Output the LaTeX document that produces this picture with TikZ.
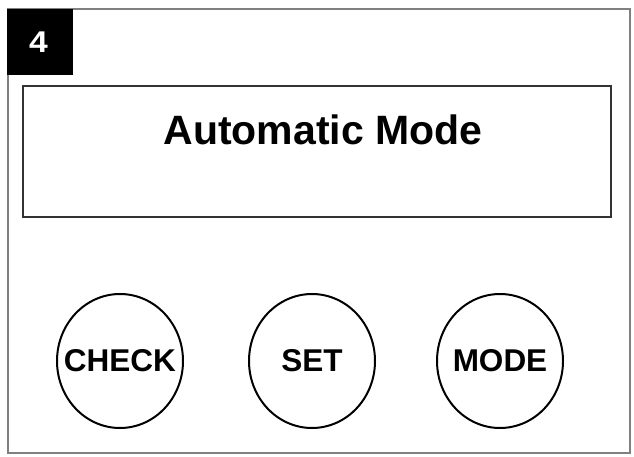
\documentclass[tikz,border=0pt]{standalone}
\usepackage{fontspec}
\setmainfont{Liberation Sans}
\usetikzlibrary{shapes.geometric}
\tikzset{
  btn/.style={draw=black, line width=2pt, ellipse, inner sep=0pt, minimum width=126pt, minimum height=134pt},
  btnlabel/.style={font=\fontsize{31.5}{32}\selectfont\bfseries, inner sep=0pt},
  frame/.style={draw=black!50, line width=1.5pt},
  screen/.style={draw=black!80, line width=2.4pt},
}
\begin{document}
\begin{tikzpicture}[x=1pt,y=-1pt]
\useasboundingbox (0,0) rectangle (634,457);
\draw[frame] (8,9) rectangle (630,453);
\fill[black] (7,9) rectangle (73,75);
\node[anchor=base, text=white, font=\fontsize{30}{30}\selectfont\bfseries, inner sep=0pt, xscale=1.12] (num) at (38.5,52.5) {4};
\draw[screen] (23,86) rectangle (611,217);
\node[anchor=base, font=\fontsize{41}{44}\selectfont\bfseries, inner sep=0pt] (title) at (323,145) {Automatic Mode};
\node[btn, label={[btnlabel]center:CHECK}] (check) at (120,361) {};
\node[btn, label={[btnlabel]center:SET}] (set) at (312,361) {};
\node[btn, label={[btnlabel]center:MODE}] (mode) at (500,361) {};
\end{tikzpicture}
\end{document}
